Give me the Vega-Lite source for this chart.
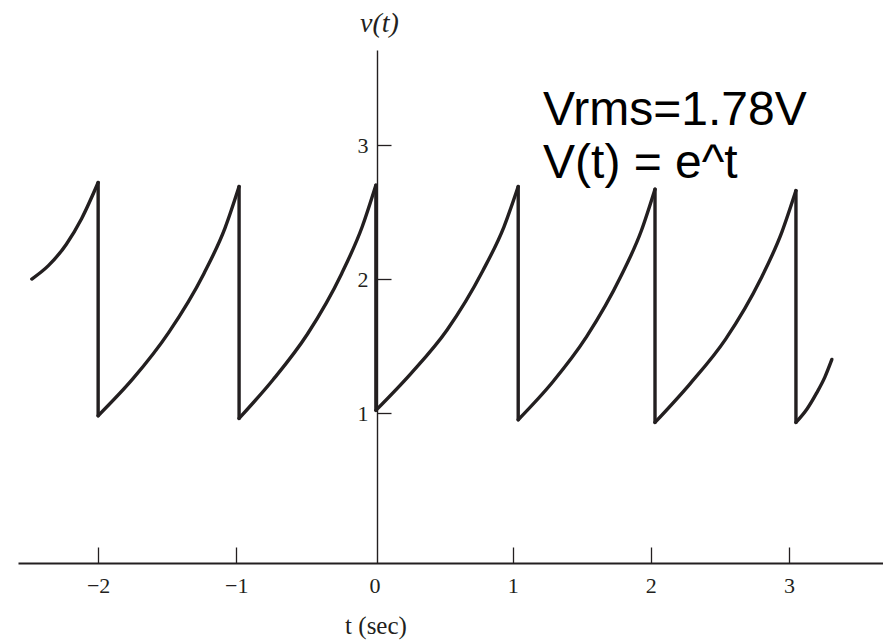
{
  "$schema": "https://vega.github.io/schema/vega-lite/v6.json",
  "width": 865,
  "height": 513,
  "autosize": {"type": "none"},
  "padding": {"left": 18, "top": 50, "right": 0, "bottom": 78},
  "background": "white",
  "config": {"view": {"stroke": null}},
  "datasets": {
    "curve": [
      {"seg": 0, "i": 0, "t": -2.48, "v": 2.00},
      {"seg": 0, "i": 1, "t": -2.36, "v": 2.10},
      {"seg": 0, "i": 2, "t": -2.23, "v": 2.26},
      {"seg": 0, "i": 3, "t": -2.12, "v": 2.45},
      {"seg": 0, "i": 4, "t": -2.00, "v": 2.72},
      {"seg": 1, "i": 0, "t": -2.00, "v": 0.98},
      {"seg": 1, "i": 1, "t": -1.745, "v": 1.26},
      {"seg": 1, "i": 2, "t": -1.49, "v": 1.60},
      {"seg": 1, "i": 3, "t": -1.235, "v": 2.04},
      {"seg": 1, "i": 4, "t": -1.082, "v": 2.38},
      {"seg": 1, "i": 5, "t": -0.98, "v": 2.69},
      {"seg": 2, "i": 0, "t": -0.98, "v": 0.96},
      {"seg": 2, "i": 1, "t": -0.733, "v": 1.25},
      {"seg": 2, "i": 2, "t": -0.485, "v": 1.59},
      {"seg": 2, "i": 3, "t": -0.238, "v": 2.04},
      {"seg": 2, "i": 4, "t": -0.089, "v": 2.39},
      {"seg": 2, "i": 5, "t": 0.01, "v": 2.70},
      {"seg": 3, "i": 0, "t": 0.01, "v": 1.02},
      {"seg": 3, "i": 1, "t": 0.268, "v": 1.30},
      {"seg": 3, "i": 2, "t": 0.525, "v": 1.62},
      {"seg": 3, "i": 3, "t": 0.783, "v": 2.06},
      {"seg": 3, "i": 4, "t": 0.937, "v": 2.39},
      {"seg": 3, "i": 5, "t": 1.04, "v": 2.69},
      {"seg": 4, "i": 0, "t": 1.04, "v": 0.95},
      {"seg": 4, "i": 1, "t": 1.288, "v": 1.23},
      {"seg": 4, "i": 2, "t": 1.535, "v": 1.57},
      {"seg": 4, "i": 3, "t": 1.783, "v": 2.02},
      {"seg": 4, "i": 4, "t": 1.931, "v": 2.36},
      {"seg": 4, "i": 5, "t": 2.03, "v": 2.67},
      {"seg": 5, "i": 0, "t": 2.03, "v": 0.93},
      {"seg": 5, "i": 1, "t": 2.285, "v": 1.22},
      {"seg": 5, "i": 2, "t": 2.54, "v": 1.55},
      {"seg": 5, "i": 3, "t": 2.795, "v": 2.00},
      {"seg": 5, "i": 4, "t": 2.948, "v": 2.35},
      {"seg": 5, "i": 5, "t": 3.05, "v": 2.66},
      {"seg": 6, "i": 0, "t": 3.05, "v": 0.93},
      {"seg": 6, "i": 1, "t": 3.13, "v": 1.03},
      {"seg": 6, "i": 2, "t": 3.20, "v": 1.15},
      {"seg": 6, "i": 3, "t": 3.26, "v": 1.27},
      {"seg": 6, "i": 4, "t": 3.31, "v": 1.40}
    ],
    "drops": [
      {"t": -2.00, "v": 2.72, "v2": 0.98},
      {"t": -0.98, "v": 2.69, "v2": 0.96},
      {"t": 0.01, "v": 2.70, "v2": 1.02},
      {"t": 1.04, "v": 2.69, "v2": 0.95},
      {"t": 2.03, "v": 2.67, "v2": 0.93},
      {"t": 3.05, "v": 2.66, "v2": 0.93}
    ],
    "notes": [
      {"t": 1.22, "v": 3.149, "label": "Vrms=1.78V"},
      {"t": 1.22, "v": 2.754, "label": "V(t) = e^t"}
    ]
  },
  "encoding": {
    "x": {
      "field": "t",
      "type": "quantitative",
      "scale": {"domain": [-2.58, 3.68], "nice": false, "zero": false},
      "axis": {
        "values": [-2, -1, 0, 1, 2, 3],
        "format": "d",
        "grid": false,
        "domainColor": "#231f20",
        "domainWidth": 1.8,
        "tickColor": "#231f20",
        "tickWidth": 1.3,
        "tickSize": -16,
        "tickOpacity": {"condition": {"test": "datum.value === 0", "value": 0}, "value": 1},
        "labelFont": "Liberation Serif",
        "labelFontSize": 22,
        "labelColor": "#231f20",
        "labelPadding": 28,
        "labelFlush": false,
        "labelOverlap": false,
        "title": "t (sec)",
        "titleFont": "Liberation Serif",
        "titleFontSize": 25,
        "titleFontWeight": "normal",
        "titleColor": "#231f20",
        "titleX": 357.5,
        "titleY": 62,
        "titleAlign": "center",
        "titleBaseline": "middle"
      }
    },
    "y": {
      "field": "v",
      "type": "quantitative",
      "scale": {"domain": [-0.119, 3.709], "nice": false, "zero": false},
      "axis": {
        "values": [1, 2, 3],
        "offset": -359,
        "grid": false,
        "domainColor": "#231f20",
        "domainWidth": 1.4,
        "tickColor": "#231f20",
        "tickWidth": 1.3,
        "tickSize": -14,
        "labelFont": "Liberation Serif",
        "labelFontSize": 22,
        "labelColor": "#231f20",
        "labelPadding": 23,
        "labelBaseline": "middle",
        "title": "v(t)",
        "titleFont": "Liberation Serif",
        "titleFontStyle": "italic",
        "titleFontSize": 28,
        "titleFontWeight": "normal",
        "titleColor": "#231f20",
        "titleAngle": 0,
        "titleX": 2,
        "titleY": -27,
        "titleAlign": "center",
        "titleBaseline": "middle"
      }
    }
  },
  "layer": [
    {
      "data": {"name": "curve"},
      "mark": {"type": "line", "color": "#231f20", "strokeWidth": 3.4, "interpolate": "monotone", "strokeCap": "round"},
      "encoding": {
        "detail": {"field": "seg", "type": "nominal"},
        "order": {"field": "i", "type": "quantitative"}
      }
    },
    {
      "data": {"name": "drops"},
      "mark": {"type": "rule", "color": "#231f20", "strokeWidth": 3.4, "strokeCap": "round"},
      "encoding": {
        "y2": {"field": "v2"}
      }
    },
    {
      "data": {"name": "notes"},
      "mark": {"type": "text", "align": "left", "baseline": "alphabetic", "font": "Liberation Sans", "fontSize": 48, "color": "#000000"},
      "encoding": {
        "text": {"field": "label", "type": "nominal"}
      }
    }
  ]
}
